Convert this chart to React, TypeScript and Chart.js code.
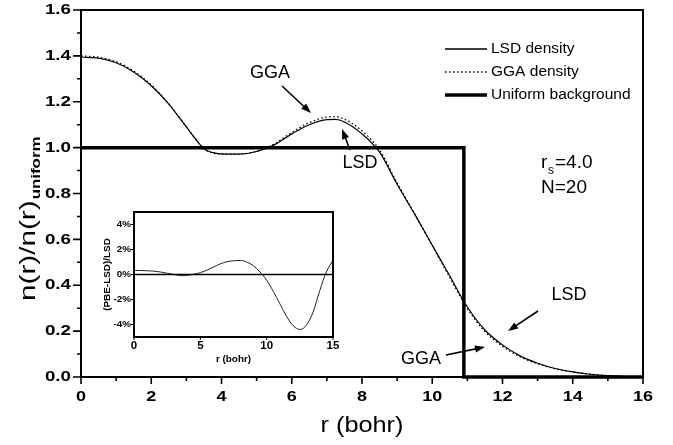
import React, { useEffect, useRef } from 'react';
import { Chart, registerables } from 'chart.js';

Chart.register(...registerables);

// ---------- data ----------
const radius = [0, 0.5, 1, 1.5, 2, 2.5, 3, 3.25, 3.5, 3.75, 4, 4.5, 5, 5.5, 6, 6.5, 7, 7.25, 7.5, 8, 8.5, 9, 9.5, 10, 10.5, 11, 11.5, 12, 12.5, 13, 13.5, 14, 14.5, 15, 15.5, 16];
const lsdDensity = [1.395, 1.39, 1.37, 1.33, 1.27, 1.19, 1.09, 1.04, 0.995, 0.978, 0.973, 0.972, 0.983, 1.012, 1.06, 1.1, 1.122, 1.123, 1.112, 1.06, 0.98, 0.84, 0.71, 0.575, 0.44, 0.305, 0.205, 0.14, 0.092, 0.06, 0.037, 0.022, 0.012, 0.006, 0.002, 0.0];
const ggaDensity = [1.4, 1.394, 1.374, 1.334, 1.273, 1.191, 1.09, 1.039, 0.994, 0.977, 0.972, 0.972, 0.984, 1.016, 1.066, 1.109, 1.133, 1.135, 1.124, 1.073, 0.99, 0.846, 0.711, 0.572, 0.434, 0.298, 0.198, 0.134, 0.088, 0.058, 0.036, 0.022, 0.012, 0.006, 0.002, 0.0];
const uniformR = [0, 10.9, 10.9, 16];
const uniformN = [1, 1, 0, 0];

const insetR = [0, 0.5, 1, 1.5, 2, 2.5, 3, 3.5, 3.75, 4, 4.5, 5, 5.5, 6, 6.5, 7, 7.5, 8, 8.5, 9, 9.5, 10, 10.5, 11, 11.5, 12, 12.5, 13, 13.5, 14, 14.5, 15];
const insetDiff = [0.32, 0.32, 0.3, 0.27, 0.2, 0.1, 0.0, -0.08, -0.1, -0.07, 0.02, 0.15, 0.35, 0.6, 0.85, 1.02, 1.1, 1.12, 1.0, 0.7, 0.2, -0.45, -1.35, -2.35, -3.35, -4.1, -4.4, -4.05, -3.0, -1.3, 0.2, 1.15];
const insetZeroR = [0, 15];
const insetZeroV = [0, 0];

const mainXTicks = [0, 2, 4, 6, 8, 10, 12, 14, 16];
const mainXMinor = [1, 3, 5, 7, 9, 11, 13, 15];
const mainYTicks = [0, 0.2, 0.4, 0.6, 0.8, 1.0, 1.2, 1.4, 1.6];
const mainYMinor = [0.1, 0.3, 0.5, 0.7, 0.9, 1.1, 1.3, 1.5];
const insetXTicks = [0, 5, 10, 15];
const insetYTicks = [-4, -2, 0, 2, 4];

const legendLabels = ['LSD density', 'GGA density', 'Uniform background'];

const FONT = '"Liberation Sans", Arial, Helvetica, sans-serif';

function pts(xs: number[], ys: number[]) {
  return xs.map((x, i) => ({ x, y: ys[i] }));
}

function drawText(
  ctx: CanvasRenderingContext2D,
  text: string,
  x: number,
  y: number,
  font: string,
  align: CanvasTextAlign = 'left',
  baseline: CanvasTextBaseline = 'middle',
  sx = 1,
  rot = 0
) {
  ctx.save();
  ctx.translate(x, y);
  if (rot) ctx.rotate(rot);
  ctx.scale(sx, 1);
  ctx.font = font;
  ctx.fillStyle = '#000';
  ctx.textAlign = align;
  ctx.textBaseline = baseline;
  ctx.fillText(text, 0, 0);
  ctx.restore();
}

function arrow(ctx: CanvasRenderingContext2D, x1: number, y1: number, x2: number, y2: number) {
  const a = Math.atan2(y2 - y1, x2 - x1);
  const hl = 10;
  const hw = 3.6;
  ctx.save();
  ctx.strokeStyle = '#000';
  ctx.fillStyle = '#000';
  ctx.lineWidth = 1.6;
  ctx.beginPath();
  ctx.moveTo(x1, y1);
  ctx.lineTo(x2 - hl * 0.7 * Math.cos(a), y2 - hl * 0.7 * Math.sin(a));
  ctx.stroke();
  ctx.beginPath();
  ctx.moveTo(x2, y2);
  ctx.lineTo(x2 - hl * Math.cos(a) + hw * Math.sin(a), y2 - hl * Math.sin(a) - hw * Math.cos(a));
  ctx.lineTo(x2 - hl * Math.cos(a) - hw * Math.sin(a), y2 - hl * Math.sin(a) + hw * Math.cos(a));
  ctx.closePath();
  ctx.fill();
  ctx.restore();
}

const mainDecor = {
  id: 'mainDecor',
  afterDraw(chart: any) {
    const ctx: CanvasRenderingContext2D = chart.ctx;
    const { left, right, top, bottom } = chart.chartArea;
    const xs = chart.scales.x;
    const ys = chart.scales.y;
    ctx.save();
    // frame
    ctx.strokeStyle = '#000';
    ctx.lineWidth = 2;
    ctx.strokeRect(left, top, right - left, bottom - top);
    // ticks
    ctx.lineWidth = 1.6;
    ctx.beginPath();
    mainXTicks.forEach((v) => {
      const p = xs.getPixelForValue(v);
      ctx.moveTo(p, bottom);
      ctx.lineTo(p, bottom + 7);
    });
    mainXMinor.forEach((v) => {
      const p = xs.getPixelForValue(v);
      ctx.moveTo(p, bottom);
      ctx.lineTo(p, bottom + 4);
    });
    mainYTicks.forEach((v) => {
      const p = ys.getPixelForValue(v);
      ctx.moveTo(left, p);
      ctx.lineTo(left - 8, p);
    });
    mainYMinor.forEach((v) => {
      const p = ys.getPixelForValue(v);
      ctx.moveTo(left, p);
      ctx.lineTo(left - 4, p);
    });
    ctx.stroke();
    ctx.restore();

    const tickFont = `bold 15px ${FONT}`;
    mainXTicks.forEach((v) => {
      drawText(ctx, String(v), xs.getPixelForValue(v), bottom + 20, tickFont, 'center', 'middle', 1.2);
    });
    mainYTicks.forEach((v) => {
      drawText(ctx, v.toFixed(1), left - 10, ys.getPixelForValue(v), tickFont, 'right', 'middle', 1.25);
    });

    // axis titles
    drawText(ctx, 'r (bohr)', (left + right) / 2, 426, `22px ${FONT}`, 'center', 'middle', 1.15);
    ctx.save();
    ctx.translate(35, 301);
    ctx.rotate(-Math.PI / 2);
    ctx.font = `22px ${FONT}`;
    const w = ctx.measureText('n(r)/n(r)').width * 1.35;
    ctx.restore();
    ctx.save();
    ctx.translate(35, 301);
    ctx.rotate(-Math.PI / 2);
    ctx.scale(1.35, 1);
    ctx.font = `22px ${FONT}`;
    ctx.fillStyle = '#000';
    ctx.textBaseline = 'alphabetic';
    ctx.textAlign = 'left';
    ctx.fillText('n(r)/n(r)', 0, 0);
    ctx.restore();
    ctx.save();
    ctx.translate(35, 301);
    ctx.rotate(-Math.PI / 2);
    ctx.translate(w + 1, 5);
    ctx.scale(1.3, 1);
    ctx.font = `bold 13px ${FONT}`;
    ctx.fillStyle = '#000';
    ctx.textBaseline = 'alphabetic';
    ctx.textAlign = 'left';
    ctx.fillText('uniform', 0, 0);
    ctx.restore();

    // legend
    const ly = [49, 72, 95];
    const styles = [
      { lw: 1.3, dash: [] as number[] },
      { lw: 1.3, dash: [1.5, 2.5] },
      { lw: 3.5, dash: [] as number[] },
    ];
    legendLabels.forEach((lab, i) => {
      ctx.save();
      ctx.strokeStyle = '#000';
      ctx.lineWidth = styles[i].lw;
      ctx.setLineDash(styles[i].dash);
      ctx.beginPath();
      ctx.moveTo(445, ly[i]);
      ctx.lineTo(487, ly[i]);
      ctx.stroke();
      ctx.restore();
      drawText(ctx, lab, 491, ly[i], `15.5px ${FONT}`, 'left', 'middle');
    });

    // annotations
    const aFont = `18px ${FONT}`;
    drawText(ctx, 'GGA', 270, 73, aFont, 'center', 'middle');
    arrow(ctx, 282, 86, 311, 113);
    drawText(ctx, 'LSD', 360, 163, aFont, 'center', 'middle');
    arrow(ctx, 350, 150, 342, 129);
    drawText(ctx, 'LSD', 569, 295, aFont, 'center', 'middle');
    arrow(ctx, 538, 311, 508, 331);
    drawText(ctx, 'GGA', 421, 359, aFont, 'center', 'middle');
    arrow(ctx, 446, 355, 485, 347);

    // rs / N
    drawText(ctx, 'r', 541, 168, `19px ${FONT}`, 'left', 'alphabetic');
    drawText(ctx, 's', 548, 174, `12px ${FONT}`, 'left', 'alphabetic');
    drawText(ctx, '=4.0', 555, 168, `19px ${FONT}`, 'left', 'alphabetic');
    drawText(ctx, 'N=20', 541, 193, `19px ${FONT}`, 'left', 'alphabetic');
  },
};

const insetDecor = {
  id: 'insetDecor',
  beforeDraw(chart: any) {
    const ctx: CanvasRenderingContext2D = chart.ctx;
    const { left, right, top, bottom } = chart.chartArea;
    ctx.save();
    ctx.fillStyle = '#fff';
    ctx.fillRect(left, top, right - left, bottom - top);
    ctx.restore();
  },
  afterDraw(chart: any) {
    const ctx: CanvasRenderingContext2D = chart.ctx;
    const { left, right, top, bottom } = chart.chartArea;
    const xs = chart.scales.x;
    const ys = chart.scales.y;
    ctx.save();
    ctx.strokeStyle = '#000';
    ctx.lineWidth = 2;
    ctx.strokeRect(left, top, right - left, bottom - top);
    ctx.lineWidth = 1;
    ctx.beginPath();
    insetXTicks.forEach((v) => {
      const p = xs.getPixelForValue(v);
      ctx.moveTo(p, bottom);
      ctx.lineTo(p, bottom + 3);
    });
    insetYTicks.forEach((v) => {
      const p = ys.getPixelForValue(v);
      ctx.moveTo(left, p);
      ctx.lineTo(left - 3, p);
    });
    ctx.stroke();
    ctx.restore();
    const f = `bold 9px ${FONT}`;
    insetXTicks.forEach((v) => {
      drawText(ctx, String(v), xs.getPixelForValue(v), bottom + 9, `bold 10px ${FONT}`, 'center', 'middle', 1.15);
    });
    insetYTicks.forEach((v) => {
      drawText(ctx, `${v}%`, left - 3, ys.getPixelForValue(v), f, 'right', 'middle', 1.1);
    });
    drawText(ctx, 'r (bohr)', (left + right) / 2, bottom + 23, f, 'center', 'middle', 1.1);
    drawText(ctx, '(PBE-LSD)/LSD', left - 26, (top + bottom) / 2, f, 'center', 'middle', 1.1, -Math.PI / 2);
  },
};

export default function App() {
  const mainRef = useRef<HTMLCanvasElement>(null);
  const insetRef = useRef<HTMLCanvasElement>(null);

  useEffect(() => {
    document.body.style.margin = '0';
    const main = new Chart(mainRef.current as HTMLCanvasElement, {
      type: 'line',
      data: {
        datasets: [
          {
            label: 'Uniform background',
            data: pts(uniformR, uniformN),
            borderColor: '#000',
            borderWidth: 3.5,
            pointRadius: 0,
            tension: 0,
            clip: false as any,
          },
          {
            label: 'GGA density',
            data: pts(radius, ggaDensity),
            borderColor: '#000',
            borderWidth: 1.3,
            borderDash: [1.5, 2.5],
            pointRadius: 0,
            cubicInterpolationMode: 'monotone',
          },
          {
            label: 'LSD density',
            data: pts(radius, lsdDensity),
            borderColor: '#000',
            borderWidth: 1.2,
            pointRadius: 0,
            cubicInterpolationMode: 'monotone',
          },
        ],
      },
      options: {
        responsive: false,
        animation: false,
        events: [],
        layout: { padding: { left: 0, top: 10, right: 30, bottom: 0 } },
        plugins: { legend: { display: false }, tooltip: { enabled: false } },
        scales: {
          x: {
            type: 'linear',
            min: 0,
            max: 16,
            ticks: { display: false },
            grid: { display: false },
            border: { display: false },
            afterFit: (s: any) => {
              s.height = 68;
            },
          },
          y: {
            type: 'linear',
            min: 0,
            max: 1.6,
            ticks: { display: false },
            grid: { display: false },
            border: { display: false },
            afterFit: (s: any) => {
              s.width = 81;
            },
          },
        },
      },
      plugins: [mainDecor],
    } as any);

    const inset = new Chart(insetRef.current as HTMLCanvasElement, {
      type: 'line',
      data: {
        datasets: [
          {
            label: 'zero',
            data: pts(insetZeroR, insetZeroV),
            borderColor: '#000',
            borderWidth: 1.5,
            pointRadius: 0,
          },
          {
            label: '(PBE-LSD)/LSD',
            data: pts(insetR, insetDiff),
            borderColor: '#222',
            borderWidth: 1,
            pointRadius: 0,
            cubicInterpolationMode: 'monotone',
          },
        ],
      },
      options: {
        responsive: false,
        animation: false,
        events: [],
        layout: { padding: { left: 0, top: 7, right: 6, bottom: 0 } },
        plugins: { legend: { display: false }, tooltip: { enabled: false } },
        scales: {
          x: {
            type: 'linear',
            min: 0,
            max: 15,
            ticks: { display: false },
            grid: { display: false },
            border: { display: false },
            afterFit: (s: any) => {
              s.height = 43;
            },
          },
          y: {
            type: 'linear',
            min: -5,
            max: 5,
            ticks: { display: false },
            grid: { display: false },
            border: { display: false },
            afterFit: (s: any) => {
              s.width = 40;
            },
          },
        },
      },
      plugins: [insetDecor],
    } as any);

    return () => {
      main.destroy();
      inset.destroy();
    };
  }, []);

  return (
    <div style={{ position: 'absolute', left: 0, top: 0, width: 673, height: 445, background: '#fff' }}>
      <canvas ref={mainRef} width={673} height={445} style={{ position: 'absolute', left: 0, top: 0 }} />
      <canvas ref={insetRef} width={245} height={175} style={{ position: 'absolute', left: 94, top: 205 }} />
    </div>
  );
}
